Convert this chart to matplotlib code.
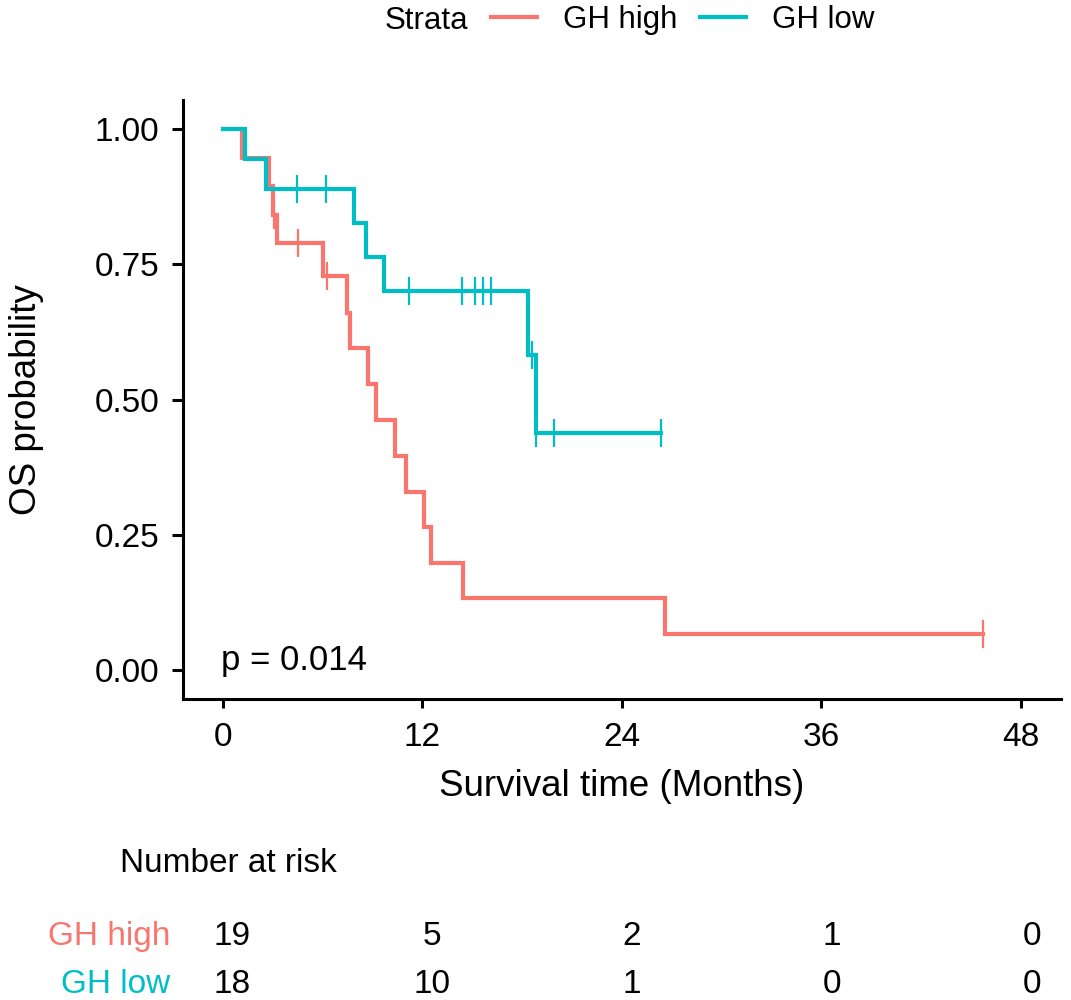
"""
Kaplan-Meier plot of OS by GH group, with number-at-risk table
"""

# %% Imports

import numpy as np
import matplotlib
matplotlib.use('Agg')
import matplotlib.pyplot as plt
from matplotlib.transforms import blended_transform_factory


# %% Data

# GH high: step times (months) and survival level after each step
t_high = [0, 1.18, 2.80, 3.01, 3.25, 6.05, 7.46, 7.66, 8.76, 9.22, 10.36,
          11.03, 12.13, 12.53, 14.47, 26.6]
s_high = [1.0, 0.947, 0.895, 0.842, 0.789, 0.728, 0.660, 0.596, 0.528,
          0.463, 0.395, 0.329, 0.265, 0.198, 0.133, 0.066]
cens_high = [3.1, 4.55, 6.26, 45.75]

# GH low
t_low = [0, 1.34, 2.6, 7.9, 8.6, 9.7, 18.35, 18.85]
s_low = [1.0, 0.944, 0.889, 0.827, 0.764, 0.700, 0.582, 0.438]
cens_low = [4.45, 6.2, 11.22, 14.38, 15.16, 15.64, 16.12, 18.6, 18.85,
            19.9, 26.36]

groups = ['GH high', 'GH low']
colors = ['#F8766D', '#00BFC4']

risk_times = [0, 12, 24, 36, 48]
risk_high = [19, 5, 2, 1, 0]
risk_low = [18, 10, 1, 0, 0]

x_ticks = [0, 12, 24, 36, 48]
y_ticks = [0.00, 0.25, 0.50, 0.75, 1.00]
p_text = 'p = 0.014'


# %% Style

plt.rcParams['font.family'] = ['Liberation Sans', 'DejaVu Sans']

fig = plt.figure(figsize=(10.71, 10.0), dpi=100)
ax = fig.add_axes([0.1706, 0.301, 0.8198, 0.599])


# %% Curves


def level_at(times, surv, t):
    """Survival level of a right-continuous step function at time t"""
    i = np.searchsorted(times, t, side='right') - 1
    return np.asarray(surv)[i]


series = [(t_high, s_high, cens_high), (t_low, s_low, cens_low)]
handles = []
for (t, s, c), name, col in zip(series, groups, colors):
    # extend the last level out to the last censored time
    tt = list(t) + [max(c)]
    ss = list(s) + [s[-1]]
    ln, = ax.step(tt, ss, where='post', color=col, lw=3.0, label=name,
                  solid_joinstyle='miter')
    handles.append(ln)
    cy = [level_at(t, s, ci) for ci in c]
    ax.plot(c, cy, ls='none', marker='|', ms=20, mew=1.6, color=col)

ax.text(-0.1, 0.0, p_text, fontsize=25, ha='left', va='baseline')


# %% Axes

ax.set_xlim(-2.4, 50.4)
ax.set_ylim(-0.054, 1.054)
ax.set_xticks(x_ticks)
ax.set_yticks(y_ticks)
ax.set_yticklabels(['%.2f' % v for v in y_ticks])
for sp in ['top', 'right']:
    ax.spines[sp].set_visible(False)
for sp in ['left', 'bottom']:
    ax.spines[sp].set_linewidth(2.2)
ax.tick_params(axis='both', width=2.2, labelsize=24, direction='out')
ax.tick_params(axis='y', length=7.9, pad=9)
ax.tick_params(axis='x', length=6.5, pad=10)

ax.set_xlabel('Survival time (Months)', fontsize=26.5)
ax.set_ylabel('OS probability', fontsize=26.5)
ax.xaxis.set_label_coords(0.5, -0.117)
ax.yaxis.set_label_coords(-0.1575, 0.5)


# %% Legend on top

fig.text(385 / 1071, 1 - 29 / 1000, 'Strata', fontsize=22.5,
         ha='left', va='baseline')
fig.legend(handles=handles, labels=groups, ncol=2, frameon=False,
           fontsize=22.5, handlelength=1.47, handletextpad=0.83,
           columnspacing=0.73, borderpad=0, borderaxespad=0,
           loc='center left', bbox_to_anchor=(491 / 1071, 1 - 20 / 1000))


# %% Number at risk table

# invisible axes that only carries the x scale of the table
ax_r = fig.add_axes([0.1706, 0.0, 0.8198, 0.2])
ax_r.set_xlim(-2.93, 49.72)
ax_r.axis('off')
tr = blended_transform_factory(ax_r.transData, fig.transFigure)

fig.text(120 / 1071, 1 - 872 / 1000, 'Number at risk', fontsize=24,
         ha='left', va='baseline')

rows = [risk_high, risk_low]
row_base = [1 - 945 / 1000, 1 - 993 / 1000]
for vals, name, col, yb in zip(rows, groups, colors, row_base):
    fig.text(170 / 1071, yb, name, fontsize=24, color=col,
             ha='right', va='baseline')
    for tm, v in zip(risk_times, vals):
        ax_r.text(tm, yb, str(v), fontsize=24, ha='center', va='baseline',
                  transform=tr)

fig.savefig('out.png', dpi=100)
